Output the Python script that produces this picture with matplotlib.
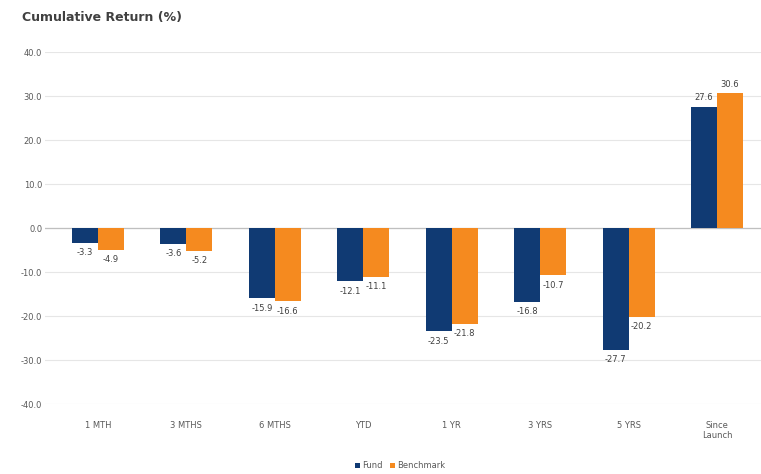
import numpy as np
import matplotlib.pyplot as plt

# Cumulative return data
categories = ["1 MTH", "3 MTHS", "6 MTHS", "YTD", "1 YR", "3 YRS", "5 YRS", "Since\nLaunch"]
fund = [-3.3, -3.6, -15.9, -12.1, -23.5, -16.8, -27.7, 27.6]
benchmark = [-4.9, -5.2, -16.6, -11.1, -21.8, -10.7, -20.2, 30.6]
yticks = [40, 30, 20, 10, 0, -10, -20, -30, -40]

navy = "#103a73"
orange = "#f58a1f"
grey = "#595959"

fig = plt.figure(figsize=(7.61, 4.74), dpi=100)
left_px, top_px, bot_px = 45, 52, 404
ax = fig.add_axes([left_px / 761, 1 - bot_px / 474, 1 - left_px / 761, (bot_px - top_px) / 474])

x = np.arange(len(categories))
w = 0.295
b1 = ax.bar(x - w / 2, fund, w, color=navy, label="Fund", zorder=3)
b2 = ax.bar(x + w / 2, benchmark, w, color=orange, label="Benchmark", zorder=3)

# value labels at bar ends
for bars, vals in [(b1, fund), (b2, benchmark)]:
    for rect, v in zip(bars, vals):
        cx = rect.get_x() + rect.get_width() / 2
        if v < 0:
            ax.annotate("{:.1f}".format(v), (cx, v), xytext=(0, -4), textcoords="offset points",
                        ha="center", va="top", fontsize=6, color="#404040")
        else:
            ax.annotate("{:.1f}".format(v), (cx, v), xytext=(0, 3), textcoords="offset points",
                        ha="center", va="bottom", fontsize=6, color="#404040")

# category centres at ~98 px with ~88.5 px spacing
sp = 88.5
ax.set_xlim(-(98 - left_px) / sp, 7 + (761 - 717) / sp)
ax.set_ylim(-40, 40)
ax.set_yticks(yticks)
ax.set_yticklabels(["{:.1f}".format(t) for t in yticks])
ax.set_xticks(x)
ax.set_xticklabels(categories)
ax.tick_params(axis="y", length=0, labelsize=6, labelcolor=grey, pad=2)
ax.tick_params(axis="x", length=0, labelsize=6, labelcolor=grey, pad=12)

ax.grid(axis="y", color="#e6e6e6", linewidth=0.8, zorder=0)
ax.axhline(0, color="#bfbfbf", linewidth=0.9, zorder=2)
for s in ax.spines.values():
    s.set_visible(False)

fig.text(22 / 761, 1 - 17 / 474, "Cumulative Return (%)", fontsize=9, fontweight="bold",
         color="#404040", va="center", ha="left")

fig.legend(loc="center", bbox_to_anchor=(400 / 761, 1 - 466 / 474), ncol=2, frameon=False,
           fontsize=6, handlelength=0.6, handleheight=0.6, columnspacing=0.8, handletextpad=0.3,
           labelcolor=grey)

fig.savefig("out.png", dpi=100)
